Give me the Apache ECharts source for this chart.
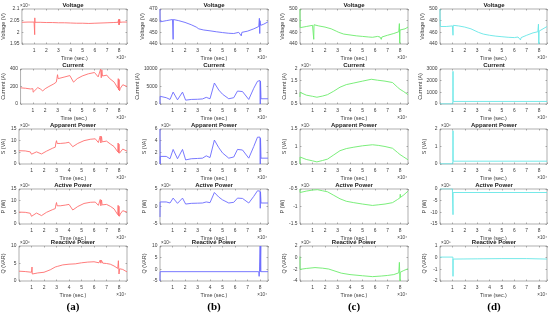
<!DOCTYPE html>
<html><head><meta charset="utf-8">
<script src="https://cdn.jsdelivr.net/npm/echarts@6/dist/echarts.min.js"></script>
<style>html,body{margin:0;padding:0;background:#fff}#c{width:550px;height:320px}</style>
</head><body><div id="c"></div>
<script>
// time axis in units of 1e4 s
const rowTitles = ['Voltage','Current','Apparent Power','Active Power','Reactive Power'];
const yNames = ['Voltage (V)','Current (A)','S (VA)','P (W)','Q (VAR)'];
const panelLabels = ['(a)','(b)','(c)','(d)'];
const timeTicks = [1,2,3,4,5,6,7,8];
const timeMax = 8.64;

// column (a)
const aVoltage = [[0,2.043],[0.5,2.044],[1.0,2.044],[1.05,1.99],[1.06,2.062],[1.07,2.043],[1.5,2.043],[2,2.042],[2.5,2.042],[3,2.041],[3.5,2.041],[4,2.040],[4.5,2.039],[5,2.039],[5.5,2.038],[6,2.039],[6.5,2.040],[7,2.041],[7.5,2.042],[7.9,2.043],[7.93,2.035],[7.95,2.055],[7.97,2.032],[8.0,2.056],[8.02,2.033],[8.04,2.055],[8.06,2.043],[8.3,2.044],[8.64,2.044]];
const aCurrent = [[0,185],[0.4,180],[0.8,172],[0.95,150],[1.0,175],[1.02,135],[1.1,150],[1.4,188],[1.6,172],[1.8,150],[2.0,175],[2.3,200],[2.7,230],[2.9,250],[2.95,290],[3.0,335],[3.05,290],[3.2,298],[3.6,310],[4.0,325],[4.3,250],[4.6,290],[5.0,320],[5.5,345],[6.0,360],[6.3,310],[6.45,320],[6.5,400],[6.55,300],[6.6,390],[6.65,320],[6.8,320],[7.0,330],[7.2,295],[7.6,250],[7.9,180],[7.93,290],[7.96,160],[8.0,280],[8.03,150],[8.1,180],[8.3,220],[8.64,200]];
const aApparent = [[0,5.7],[0.5,5.6],[0.9,5.2],[1.0,4.2],[1.02,4.8],[1.05,4.1],[1.4,5.2],[1.8,4.3],[2.2,5.5],[2.7,6.8],[2.9,7.2],[2.95,9],[3.0,10],[3.05,8.8],[3.3,8.8],[3.7,9],[4.0,9.3],[4.3,7.4],[4.7,8.8],[5.2,10],[5.7,10.6],[6.1,10.8],[6.35,9.2],[6.45,9.5],[6.5,12],[6.55,9],[6.6,11.8],[6.65,9.5],[6.8,9.8],[7.0,9.8],[7.3,8.6],[7.6,7.5],[7.9,5.2],[7.93,9],[7.96,4.8],[8.0,8.5],[8.03,4.6],[8.1,5.2],[8.3,6.4],[8.64,5.5]];
const aActive = [[0,5.1],[0.5,5.0],[0.9,4.6],[1.0,3.3],[1.02,4.0],[1.05,3.4],[1.4,4.7],[1.8,3.6],[2.2,5.0],[2.7,6.2],[2.9,6.6],[2.95,8.2],[3.0,9.2],[3.05,7.8],[3.3,7.8],[3.7,8.1],[4.0,8.4],[4.3,6.0],[4.7,7.5],[5.2,8.8],[5.7,9.3],[6.1,9.4],[6.35,8.0],[6.45,8.3],[6.5,10.5],[6.55,7.8],[6.6,10.3],[6.65,8.2],[6.8,8.3],[7.0,8.4],[7.3,7.6],[7.6,6.5],[7.9,4.0],[7.93,8],[7.96,3.5],[8.0,7.6],[8.03,3.3],[8.1,4.3],[8.3,5.7],[8.64,5.1]];
const aReactive = [[0,2.8],[0.5,2.7],[1.0,2.5],[1.04,4.0],[1.06,2.0],[1.1,2.4],[1.5,2.3],[2.0,2.5],[2.5,3.2],[2.9,4.0],[3.0,4.4],[3.1,4.2],[3.5,4.6],[4.0,4.8],[4.5,4.9],[5.0,5.2],[5.5,5.4],[6.0,5.5],[6.4,5.2],[6.5,6.0],[6.55,5.1],[6.6,5.9],[6.7,5.1],[7.0,5.0],[7.3,4.8],[7.6,4.3],[7.9,3.6],[7.95,5.8],[8.0,2.0],[8.05,3.5],[8.3,3.3],[8.64,2.6]];

// column (b)
const bVoltage = [[0,470],[0.01,459],[0.5,460],[1.0,461],[1.05,444],[1.07,461],[1.5,460],[2.0,458.5],[2.5,456.5],[2.9,454.5],[2.95,453],[3.0,454],[3.1,453],[3.5,452],[4.0,451.3],[4.5,450.5],[5.0,449.8],[5.5,449.2],[5.9,449],[6.3,450],[6.45,449.5],[6.5,447],[6.55,450],[6.6,449],[6.7,450.5],[7.0,451],[7.5,453],[7.9,455],[7.95,462],[7.98,449],[8.0,460],[8.05,456],[8.3,457],[8.64,459]];
const bCurrent = [[0,0],[0.01,2200],[0.03,1800],[0.5,1800],[0.8,1300],[1.05,3400],[1.4,1200],[1.8,3400],[2.05,1100],[2.5,1300],[3.0,1350],[3.4,1450],[3.7,1900],[4.0,1500],[4.35,6000],[4.7,4000],[5.0,2800],[5.5,1500],[5.9,1800],[6.2,3700],[6.6,3550],[7.1,1300],[7.5,4500],[7.8,6500],[8.0,6700],[8.02,0],[8.04,6500],[8.08,1500],[8.64,1500]];
const bApparent = [[0,6],[0.01,0],[0.02,1.3],[0.5,1.3],[0.8,0.9],[1.05,2.5],[1.4,0.9],[1.8,2.5],[2.05,0.7],[2.5,0.9],[3.0,0.95],[3.4,1.0],[3.7,1.4],[4.0,1.1],[4.35,4.1],[4.7,2.8],[5.0,1.9],[5.5,1.0],[5.9,1.2],[6.2,2.5],[6.6,2.4],[7.1,1.0],[7.5,3.0],[7.8,4.6],[8.0,4.6],[8.02,0],[8.04,4.4],[8.08,1.0],[8.64,1.0]];
const bActive = [[0,-3],[0.01,1.3],[0.5,1.3],[0.8,1.0],[1.05,2.4],[1.4,0.9],[1.8,2.4],[2.05,0.7],[2.5,0.9],[3.0,0.95],[3.4,1.0],[3.7,1.3],[4.0,1.1],[4.35,4.0],[4.7,2.7],[5.0,1.9],[5.5,1.0],[5.9,1.2],[6.2,2.4],[6.6,2.3],[7.1,1.0],[7.5,2.9],[7.8,4.5],[8.0,4.4],[8.02,-0.5],[8.04,4.2],[8.08,1.0],[8.64,1.0]];
const bReactive = [[0,-5],[0.01,-1],[1.04,-1],[1.05,-0.7],[1.06,-1],[7.9,-1],[7.93,-3],[7.96,-1],[8.0,-1],[8.01,10],[8.02,-1],[8.06,10],[8.07,-1],[8.64,-1]];

// column (c)
const cVoltage = [[0,500],[0.01,468],[0.5,470],[1.0,472],[1.1,448],[1.12,473],[1.5,471],[2.0,469],[2.5,466],[2.9,462],[3.0,459],[3.1,460],[3.5,457],[4.0,455.5],[4.5,454],[5.0,453],[5.5,452],[5.8,451.5],[6.2,453],[6.4,452],[6.5,448],[6.55,452],[6.6,450],[6.7,454],[7.0,455],[7.5,458],[7.9,461],[7.95,475],[7.98,441],[8.0,464],[8.1,463],[8.4,466],[8.64,469]];
const cCurrent = [[0,0.8],[0.005,1.0],[0.01,0.92],[0.5,0.88],[1.0,0.83],[1.35,0.79],[1.8,0.84],[2.2,0.9],[2.7,1.05],[3.2,1.22],[3.7,1.33],[4.3,1.4],[5.0,1.48],[5.7,1.56],[6.2,1.52],[6.8,1.48],[7.4,1.42],[7.8,1.22],[8.0,1.13],[8.3,1.03],[8.64,0.9]];
const cApparent = [[0,0.5],[0.005,0.7],[0.01,0.65],[0.5,0.63],[1.0,0.59],[1.35,0.56],[1.8,0.6],[2.2,0.64],[2.7,0.76],[3.2,0.88],[3.7,0.94],[4.3,0.98],[5.0,1.02],[5.8,1.05],[6.3,1.03],[6.8,1.0],[7.4,0.95],[7.8,0.83],[8.0,0.77],[8.3,0.7],[8.64,0.62]];
const cActive = [[0,-0.5],[0.005,-0.6],[0.01,-0.58],[0.5,-0.56],[1.0,-0.53],[1.4,-0.52],[1.8,-0.55],[2.2,-0.58],[2.7,-0.68],[3.2,-0.78],[3.7,-0.85],[4.3,-0.89],[5.0,-0.93],[5.8,-0.97],[6.3,-0.95],[6.8,-0.93],[7.4,-0.89],[7.8,-0.8],[8.0,-0.75],[8.02,-0.65],[8.04,-0.74],[8.3,-0.67],[8.64,-0.56]];
const cReactive = [[0,0.2],[0.005,-2],[0.01,-1.9],[0.5,-1.85],[1.2,-1.7],[1.8,-1.8],[2.3,-1.95],[2.8,-2.3],[3.3,-2.65],[4.0,-2.9],[5.0,-3.1],[5.8,-3.25],[6.5,-3.15],[7.0,-3.05],[7.5,-2.9],[7.9,-2.6],[7.95,-0.8],[7.98,-2.6],[8.0,-4],[8.02,-2.5],[8.3,-2.2],[8.64,-1.9]];

// column (d)
const dVoltage = [[0,500],[0.01,480],[0.03,470],[0.5,470],[1.0,471],[1.04,474],[1.05,455],[1.07,472],[1.5,471],[2.0,469],[2.5,466],[2.9,462],[3.0,459],[3.1,460],[3.5,457],[4.0,455],[4.5,453.5],[5.0,452.5],[5.5,451.5],[6.0,451],[6.3,452],[6.45,451],[6.5,447],[6.55,451],[6.6,449],[6.7,453],[7.0,455],[7.5,459],[7.9,461],[7.95,474],[7.98,440],[8.0,462],[8.1,463],[8.4,467],[8.64,470]];
const dCurrent = [[0,10],[1.04,10],[1.05,2800],[1.06,220],[8.64,220]];
const dApparent = [[0,0.01],[1.04,0.01],[1.05,1.9],[1.06,0.16],[8.64,0.16]];
const dActive = [[0,0.1],[1.0,0.1],[1.04,-0.2],[1.05,-11],[1.06,-1.5],[8.64,-1.5]];
const dReactive = [[0,0.05],[1.04,0.05],[1.05,-1.6],[1.06,-0.12],[3,-0.1],[5,-0.08],[7,-0.08],[8.64,-0.12]];

// y-axis ranges [min, max, interval] and exponent labels
const aRanges = [[1.95,2.1,0.05],[0,400,200],[0,15,5],[0,15,5],[0,10,5]];
const bRanges = [[440,470,10],[0,10000,5000],[0,6,2],[-5,5,5],[-5,10,5]];
const cRanges = [[440,500,20],[0.5,2,0.5],[0.5,1.5,0.5],[-1.5,-0.5,0.5],[-4,2,2]];
const dRanges = [[440,500,20],[0,3000,1000],[0,2,1],[-15,0,5],[-2,1,1]];
const aExp = ['4','','6','6','6'];
const bExp = ['','','6','6','5'];
const cExp = ['','4','7','7','6'];
const dExp = ['','','6','5','5'];

const panels = [
  [aVoltage,aCurrent,aApparent,aActive,aReactive],
  [bVoltage,bCurrent,bApparent,bActive,bReactive],
  [cVoltage,cCurrent,cApparent,cActive,cReactive],
  [dVoltage,dCurrent,dApparent,dActive,dReactive]
];
const ranges = [aRanges,bRanges,cRanges,dRanges];
const exps = [aExp,bExp,cExp,dExp];
const colors = ['#ff6e6e','#6a6aff','#6cec6c','#66e6e6'];

const sup = {'0':'⁰','1':'¹','2':'²','3':'³','4':'⁴','5':'⁵','6':'⁶','7':'⁷','8':'⁸','9':'⁹'};
const expText = e => '×10' + e.split('').map(ch => sup[ch]).join('');
const fmtNum = v => String(Math.round(v*1000)/1000);

const colLeft = [19,160,300,440];
const colWidth = 108;
const rowTop = [9,69,129,189,246];
const rowHeight = 35;
const FONT = 'Liberation Sans';
const axisGray = '#7a7a7a';
const textGray = '#3a3a3a';

const grid = [], xAxis = [], yAxis = [], series = [], graphic = [];
for (let c = 0; c < 4; c++) {
  for (let r = 0; r < 5; r++) {
    const idx = c*5 + r;
    const left = colLeft[c], top = rowTop[r];
    grid.push({left: left, top: top, width: colWidth, height: rowHeight, show: true, borderColor: axisGray, borderWidth: 0.6, backgroundColor: '#fff'});
    const [ymin, ymax, yint] = ranges[c][r];
    const xCommon = {type: 'value', gridIndex: idx, min: 0, max: timeMax, interval: 1,
      splitLine: {show: false}, axisLine: {show: false, onZero: false},
      axisTick: {inside: true, length: 1.5, lineStyle: {color: axisGray, width: 0.6}}};
    xAxis.push(Object.assign({}, xCommon, {position: 'bottom',
      name: 'Time (sec.)', nameLocation: 'middle', nameGap: 12.5,
      nameTextStyle: {fontSize: 5.4, fontFamily: FONT, color: textGray},
      axisLabel: {fontSize: 4.9, fontFamily: FONT, color: textGray, margin: 4,
        formatter: v => timeTicks.indexOf(Math.round(v*1000)/1000) >= 0 ? String(Math.round(v)) : ''}}));
    xAxis.push(Object.assign({}, xCommon, {position: 'top', axisLabel: {show: false}}));
    const yCommon = {type: 'value', gridIndex: idx, min: ymin, max: ymax, interval: yint,
      splitLine: {show: false}, axisLine: {show: false, onZero: false},
      axisTick: {inside: true, length: 1.5, lineStyle: {color: axisGray, width: 0.6}}};
    yAxis.push(Object.assign({}, yCommon, {position: 'left',
      name: yNames[r], nameLocation: 'middle', nameGap: (c === 1 && r === 1) ? 16 : 12.5,
      nameTextStyle: {fontSize: 5.4, fontFamily: FONT, color: textGray},
      axisLabel: {fontSize: 4.9, fontFamily: FONT, color: textGray, margin: 2.5, formatter: fmtNum}}));
    yAxis.push(Object.assign({}, yCommon, {position: 'right', axisLabel: {show: false}}));
    series.push({type: 'line', xAxisIndex: 2*idx, yAxisIndex: 2*idx, data: panels[c][r],
      showSymbol: false, symbol: 'none', clip: true,
      lineStyle: {color: colors[c], width: 0.9}, itemStyle: {color: colors[c]}, animation: false});
    // title
    graphic.push({type: 'text', x: left + colWidth/2, y: top - 1, silent: true,
      style: {text: rowTitles[r], align: 'center', verticalAlign: 'bottom', fontSize: 6, fontWeight: 'bold', fontFamily: FONT, fill: '#1a1a1a'}});
    // y exponent
    if (exps[c][r]) {
      graphic.push({type: 'text', x: left + 1, y: top - 0.5, silent: true,
        style: {text: expText(exps[c][r]), align: 'left', verticalAlign: 'bottom', fontSize: 4.6, fontFamily: FONT, fill: textGray}});
    }
    // x exponent
    graphic.push({type: 'text', x: left + colWidth - 1, y: top + rowHeight + 14, silent: true,
      style: {text: expText('4'), align: 'right', verticalAlign: 'middle', fontSize: 4.6, fontFamily: FONT, fill: textGray}});
  }
  graphic.push({type: 'text', x: colLeft[c] + colWidth/2, y: 307, silent: true,
    style: {text: panelLabels[c], align: 'center', verticalAlign: 'middle', fontSize: 11, fontWeight: 'bold', fontFamily: 'Liberation Serif', fill: '#000'}});
}

const chart = echarts.init(document.getElementById('c'), null, {renderer: 'canvas'});
chart.setOption({animation: false, backgroundColor: '#fff', grid, xAxis, yAxis, series, graphic});
</script></body></html>
